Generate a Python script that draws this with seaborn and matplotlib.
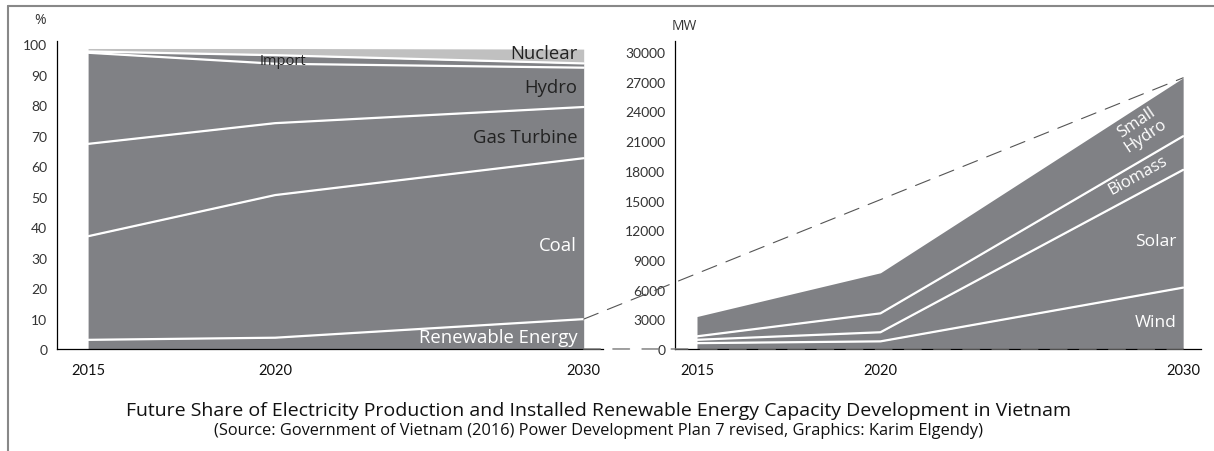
import numpy as np
import pandas as pd
import seaborn as sns
import matplotlib.pyplot as plt
from matplotlib.patches import ConnectionPatch
from matplotlib.lines import Line2D

years = [2015, 2020, 2030]
year_labels = ["2015", "2020", "2030"]

# share of electricity production (%), bottom to top
renewable = [3.0, 3.7, 9.8]
coal = [34.0, 46.8, 52.8]
gas_turbine = [30.3, 23.6, 16.8]
hydro = [29.9, 19.5, 12.9]
imports = [0.4, 2.8, 1.4]
nuclear = [1.0, 2.2, 4.7]

# installed renewable capacity (MW), bottom to top
wind = [590, 770, 6200]
solar = [340, 920, 11900]
biomass = [350, 1910, 3400]
small_hydro = [2000, 4100, 5900]

DARK = "#808185"
LIGHT = "#c0c0c0"
TXT = "#333333"

sns.set_theme(style="white")
plt.rcParams["font.family"] = ["Open Sans", "DejaVu Sans"]

# the original graphic does not space the years linearly
year_anchor = [2000, 2015, 2020, 2030, 2045]
pos_anchor = [-3.0, 0.0, 1.0, 2.65, 5.125]


def fwd(x):
    return np.interp(x, year_anchor, pos_anchor)


def inv(p):
    return np.interp(p, pos_anchor, year_anchor)


def boundaries(layers):
    tops = np.cumsum(np.array(layers, dtype=float), axis=0)[:-1]
    rows = []
    for i, t in enumerate(tops):
        for y, v in zip(years, t):
            rows.append({"layer": i, "year": y, "top": v})
    return pd.DataFrame(rows)


fig = plt.figure(figsize=(12.14, 4.52), dpi=100)
ax1 = fig.add_axes([0.047, 0.2257, 0.4498, 0.681])
ax2 = fig.add_axes([0.556, 0.2257, 0.4333, 0.681])

# left: share of production
share = [renewable, coal, gas_turbine, hydro, imports, nuclear]
ax1.set_xscale("function", functions=(fwd, inv))
ax1.stackplot(years, *share, colors=[DARK] * 5 + [LIGHT], lw=0)
sns.lineplot(data=boundaries(share), x="year", y="top", units="layer",
             estimator=None, color="white", lw=1.6, ax=ax1)
ax1.set_xlim(2014.17, 2030.63)
ax1.set_ylim(0, 101)
ax1.set_yticks(range(0, 101, 10))

# right: installed capacity
cap = [wind, solar, biomass, small_hydro]
ax2.set_xscale("function", functions=(fwd, inv))
ax2.stackplot(years, *cap, colors=[DARK] * 4, lw=0)
sns.lineplot(data=boundaries(cap), x="year", y="top", units="layer",
             estimator=None, color="white", lw=1.6, ax=ax2)
ax2.set_xlim(2014.4, 2030.59)
ax2.set_ylim(0, 31100)
ax2.set_yticks(range(0, 30001, 3000))

for ax in (ax1, ax2):
    ax.set_xticks(years)
    ax.set_xticklabels(year_labels)
    ax.set_xlabel("")
    ax.set_ylabel("")
    sns.despine(ax=ax)
    for s in ("left", "bottom"):
        ax.spines[s].set_color("black")
        ax.spines[s].set_linewidth(0.9)
    ax.tick_params(axis="x", length=0, pad=10, labelsize=10.5, labelcolor="#111")
    ax.tick_params(axis="y", length=0, pad=7, labelsize=10, labelcolor=TXT)
    for lab in ax.get_xticklabels() + ax.get_yticklabels():
        lab.set_family(["Lato", "DejaVu Sans"])

# layer labels, left
lab_kw = dict(ha="right", va="center", fontsize=13.3)
ax1.text(2029.79, 97.2, "Nuclear", color="#222", **lab_kw)
ax1.text(2029.79, 85.9, "Hydro", color="#222", **lab_kw)
ax1.text(2029.79, 69.7, "Gas Turbine", color="#222", **lab_kw)
ax1.text(2029.79, 34.2, "Coal", color="white", **lab_kw)
ax1.text(2029.79, 3.8, "Renewable Energy", color="white", **lab_kw)
ax1.text(2020.26, 94.6, "Import", color="#222", ha="center", va="center", fontsize=10.5)

# layer labels, right
ax2.text(2028.6, 22300, "Small\nHydro", color="white", ha="center", va="center",
         rotation=34, fontsize=12, linespacing=0.95, rotation_mode="anchor")
ax2.text(2028.5, 17600, "Biomass", color="white", ha="center", va="center",
         rotation=29, fontsize=12, rotation_mode="anchor")
ax2.text(2029.79, 10900, "Solar", color="white", ha="right", va="center", fontsize=12.5)
ax2.text(2029.79, 2700, "Wind", color="white", ha="right", va="center", fontsize=12.5)

# dashed "zoom" connectors between the two panels
share_top = np.cumsum(np.array(share), axis=0)
cap_top = np.cumsum(np.array(cap), axis=0)
con1 = ConnectionPatch(xyA=(2030, share_top[0][-1]), coordsA=ax1.transData,
                       xyB=(2030, cap_top[-1][-1]), coordsB=ax2.transData,
                       color="#555555", lw=0.8, linestyle=(0, (14, 9)))
con2 = ConnectionPatch(xyA=(2030, 0), coordsA=ax1.transData,
                       xyB=(2030, 0), coordsB=ax2.transData,
                       color="#777777", lw=1.0, linestyle=(0, (12, 9)))
fig.add_artist(con1)
fig.add_artist(con2)

# units
fig.text(40 / 1214, 1 - 20 / 452, "%", ha="center", va="center", fontsize=10, color=TXT)
fig.text(684 / 1214, 1 - 27 / 452, "MW", ha="center", va="center", fontsize=10, color=TXT)

# frame of the original graphic (top and left edge)
fig.add_artist(Line2D([8 / 1214, 1.0], [1 - 7 / 452, 1 - 7 / 452],
                      transform=fig.transFigure, color="#888888", lw=1.5))
fig.add_artist(Line2D([8 / 1214, 8 / 1214], [0.0, 1 - 7 / 452],
                      transform=fig.transFigure, color="#888888", lw=1.5))

fig.text(0.493, 1 - 411 / 452,
         "Future Share of Electricity Production and Installed Renewable Energy "
         "Capacity Development in Vietnam",
         ha="center", va="center", fontsize=14, color="#111")
fig.text(0.493, 1 - 431 / 452,
         "(Source: Government of Vietnam (2016) Power Development Plan 7 revised, "
         "Graphics: Karim Elgendy)",
         ha="center", va="center", fontsize=11.8, color="#111")

fig.savefig("out.png", dpi=100)
